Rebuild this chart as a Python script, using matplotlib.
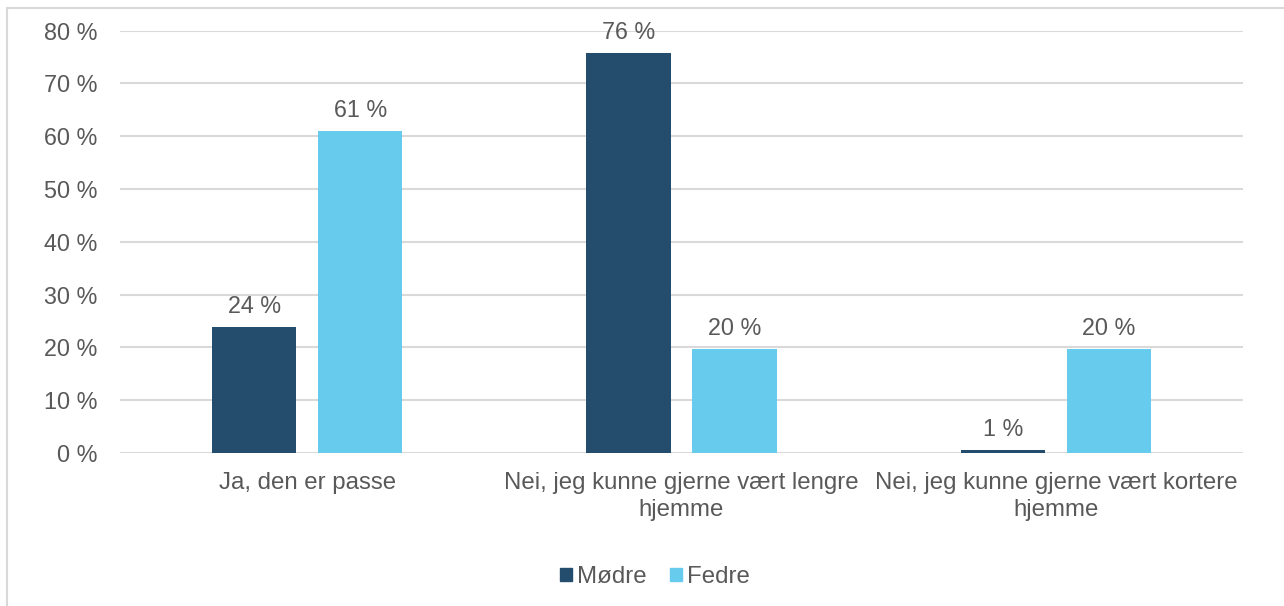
import numpy as np
import matplotlib.pyplot as plt
from matplotlib.patches import Rectangle, Patch
from matplotlib.ticker import MultipleLocator, FuncFormatter

plt.rcParams['font.family'] = ['Liberation Sans', 'DejaVu Sans']

# data
categories = ['Ja, den er passe',
              'Nei, jeg kunne gjerne vært lengre\nhjemme',
              'Nei, jeg kunne gjerne vært kortere\nhjemme']
modre = [23.8, 75.7, 0.6]
fedre = [60.9, 19.6, 19.7]
series_names = ['Mødre', 'Fedre']
colors = ['#244c6d', '#66cbed']
text_color = '#595959'

W, H = 1284, 606
fig = plt.figure(figsize=(W / 100, H / 100), dpi=100)
ax = fig.add_axes([120 / W, 1 - 453 / H, (1243 - 120) / W, (453 - 30.5) / H])

x = np.arange(len(categories))
width = 0.2245
offset = 0.1416
bars1 = ax.bar(x - offset, modre, width, color=colors[0], zorder=3)
bars2 = ax.bar(x + offset, fedre, width, color=colors[1], zorder=3)

for bars, vals in ((bars1, modre), (bars2, fedre)):
    for b, v in zip(bars, vals):
        ax.annotate(f'{v:.0f} %', (b.get_x() + b.get_width() / 2, v),
                    xytext=(0, 9), textcoords='offset pixels',
                    ha='center', va='bottom', fontsize=16.8, color=text_color)

ax.set_xlim(-0.5, 2.5)
ax.set_ylim(0, 80)
ax.yaxis.set_major_locator(MultipleLocator(10))
ax.yaxis.set_major_formatter(FuncFormatter(lambda v, p: f'{v:.0f} %'))
ax.set_xticks(x)
ax.set_xticklabels(categories, fontsize=17.3, color=text_color, linespacing=1.3)
ax.tick_params(axis='y', labelsize=16.8, labelcolor=text_color, length=0, pad=16.5)
ax.tick_params(axis='x', length=0, pad=13.5)
ax.grid(axis='y', color='#d9d9d9', linewidth=1.5, zorder=0)
for s in ax.spines.values():
    s.set_visible(False)

handles = [Patch(color=c, label=n) for c, n in zip(colors, series_names)]
fig.legend(handles=handles, loc='center', bbox_to_anchor=(655 / W, 1 - 577 / H),
           ncol=2, frameon=False, fontsize=17.3, handlelength=0.5, handleheight=0.5,
           handletextpad=0.2, columnspacing=1.0, labelcolor=text_color)

# chart border (only left/top visible in the reference)
fig.patches.append(Rectangle((7 / W, -0.1), 1.2, 1 - 8 / H + 0.1,
                             transform=fig.transFigure, fill=False,
                             edgecolor='#d9d9d9', linewidth=1.5))

fig.savefig('out.png', dpi=100)
